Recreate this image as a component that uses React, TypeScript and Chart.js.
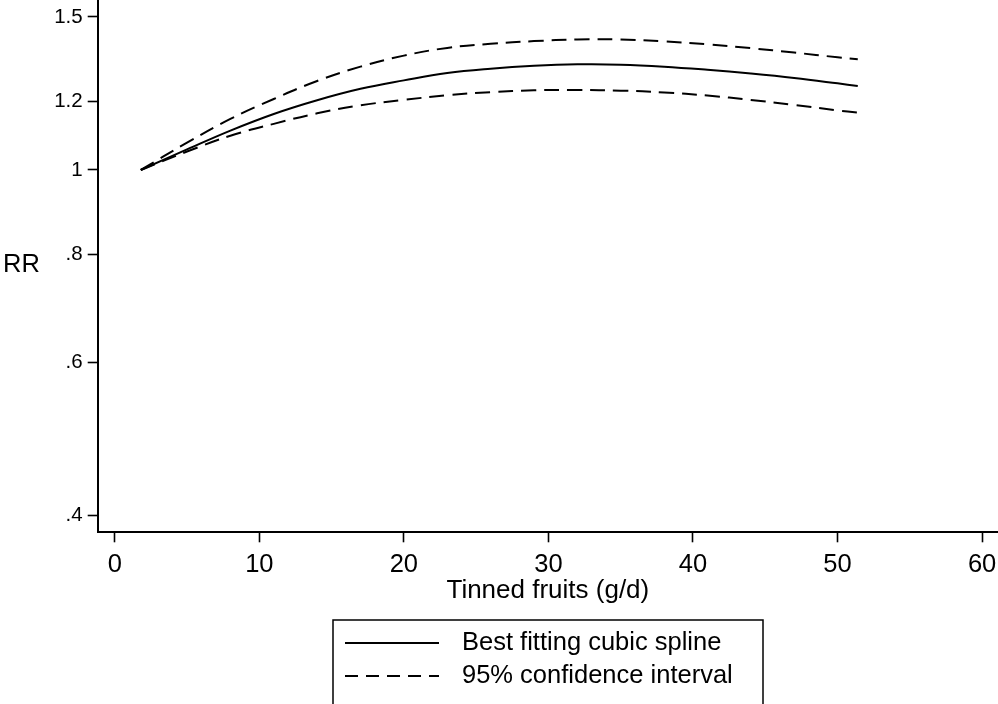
import React, { useEffect, useRef } from "react";
import { Chart, registerables } from "chart.js";

Chart.register(...registerables);

// ---- data ----
const xValues = [1.8, 5, 8, 11, 14, 17, 20, 23, 26, 29, 32, 35, 38, 41, 44, 47, 50, 51.4];
const splineRR = [1.0, 1.056, 1.11, 1.16, 1.203, 1.24, 1.268, 1.293, 1.308, 1.318, 1.323, 1.322, 1.315, 1.304, 1.291, 1.276, 1.258, 1.249];
const upperRR = [1.0, 1.075, 1.145, 1.207, 1.266, 1.315, 1.354, 1.382, 1.397, 1.407, 1.413, 1.413, 1.406, 1.395, 1.381, 1.365, 1.348, 1.341];
const lowerRR = [1.0, 1.05, 1.095, 1.13, 1.162, 1.187, 1.204, 1.219, 1.229, 1.235, 1.236, 1.234, 1.228, 1.218, 1.204, 1.188, 1.171, 1.164];
const xTicks = [0, 10, 20, 30, 40, 50, 60];
const yTicks = [0.4, 0.6, 0.8, 1, 1.2, 1.5];
const yTickLabels = [".4", ".6", ".8", "1", "1.2", "1.5"];
const legendLabels = ["Best fitting cubic spline", "95% confidence interval"];
const xTitle = "Tinned fruits (g/d)";
const yTitle = "RR";

const FONT = '"Liberation Sans", Arial, Helvetica, sans-serif';

const toPoints = (ys: number[]) => xValues.map((x, i) => ({ x, y: ys[i] }));

const zeroPadding = (s: any) => {
  s.paddingTop = 0;
  s.paddingBottom = 0;
  s.paddingLeft = 0;
  s.paddingRight = 0;
};

const overlayPlugin = {
  id: "stataOverlay",
  afterDraw(chart: any) {
    const ctx = chart.ctx as CanvasRenderingContext2D;
    const area = chart.chartArea;
    ctx.save();
    ctx.fillStyle = "#000";
    ctx.strokeStyle = "#000";
    // y title (horizontal)
    ctx.font = `25.5px ${FONT}`;
    ctx.textAlign = "left";
    ctx.textBaseline = "middle";
    ctx.fillText(yTitle, 3, (area.top + area.bottom) / 2 - 1);

    // legend box
    const bx = 333, by = 620, bw = 430, bh = 120;
    ctx.lineWidth = 1.5;
    ctx.setLineDash([]);
    ctx.strokeRect(bx, by, bw, bh);

    const rows = [643, 676];
    const dashes = [[], [13, 8]];
    rows.forEach((ry, i) => {
      ctx.lineWidth = 2;
      ctx.setLineDash(dashes[i] as number[]);
      ctx.beginPath();
      ctx.moveTo(345, ry);
      ctx.lineTo(439, ry);
      ctx.stroke();
      ctx.setLineDash([]);
      ctx.font = `25.5px ${FONT}`;
      ctx.textAlign = "left";
      ctx.textBaseline = "middle";
      ctx.fillText(legendLabels[i], 462, ry);
    });
    ctx.restore();
  },
};

export default function App() {
  const ref = useRef<HTMLCanvasElement | null>(null);
  useEffect(() => {
    if (!ref.current) return;
    const lineDefaults = {
      borderColor: "#000",
      borderWidth: 2,
      pointRadius: 0,
      tension: 0.4,
      fill: false,
    };
    const chart = new Chart(ref.current, {
      type: "line",
      data: {
        datasets: [
          { ...lineDefaults, label: legendLabels[0], data: toPoints(splineRR) },
          { ...lineDefaults, label: legendLabels[1], data: toPoints(upperRR), borderDash: [15, 8] },
          { ...lineDefaults, label: legendLabels[1] + " (lower)", data: toPoints(lowerRR), borderDash: [15, 8] },
        ],
      },
      options: {
        responsive: false,
        animation: false,
        devicePixelRatio: 1,
        layout: { padding: 0 },
        plugins: {
          legend: { display: false },
          tooltip: { enabled: false },
        },
        scales: {
          x: {
            type: "linear",
            position: "bottom",
            min: -1.18,
            max: 61.1,
            afterBuildTicks: (s: any) => {
              s.ticks = xTicks.map((v) => ({ value: v }));
            },
            afterFit: (s: any) => {
              s.height = 171.7;
              zeroPadding(s);
            },
            grid: {
              display: true,
              drawOnChartArea: false,
              drawTicks: true,
              tickLength: 10,
              tickWidth: 1.6,
              tickColor: "#000",
              color: "#000",
            },
            border: { display: true, color: "#000", width: 2 },
            ticks: {
              color: "#000",
              padding: 7,
              maxRotation: 0,
              font: { family: FONT, size: 25.5 },
              callback: (v: any) => String(v),
            },
            title: {
              display: true,
              text: xTitle,
              color: "#000",
              font: { family: FONT, size: 26 },
              padding: { top: 0, bottom: 98 },
            },
          },
          y: {
            type: "logarithmic",
            position: "left",
            min: 0.3828,
            max: 1.569,
            afterBuildTicks: (s: any) => {
              s.ticks = yTicks.map((v) => ({ value: v }));
            },
            afterFit: (s: any) => {
              s.width = 97.7;
              zeroPadding(s);
            },
            grid: {
              display: true,
              drawOnChartArea: false,
              drawTicks: true,
              tickLength: 10,
              tickWidth: 1.6,
              tickColor: "#000",
              color: "#000",
            },
            border: { display: true, color: "#000", width: 2 },
            ticks: {
              color: "#000",
              padding: 5,
              font: { family: FONT, size: 20.5 },
              callback: (v: any) => {
                const i = yTicks.findIndex((t) => Math.abs(t - Number(v)) < 1e-9);
                return i >= 0 ? yTickLabels[i] : "";
              },
            },
            title: { display: false },
          },
        },
      },
      plugins: [overlayPlugin],
    } as any);
    return () => chart.destroy();
  }, []);

  return (
    <div style={{ position: "absolute", left: 0, top: 0, width: 998, height: 704, background: "#fff" }}>
      <canvas ref={ref} width={998} height={704} style={{ display: "block", width: 998, height: 704 }} />
    </div>
  );
}
